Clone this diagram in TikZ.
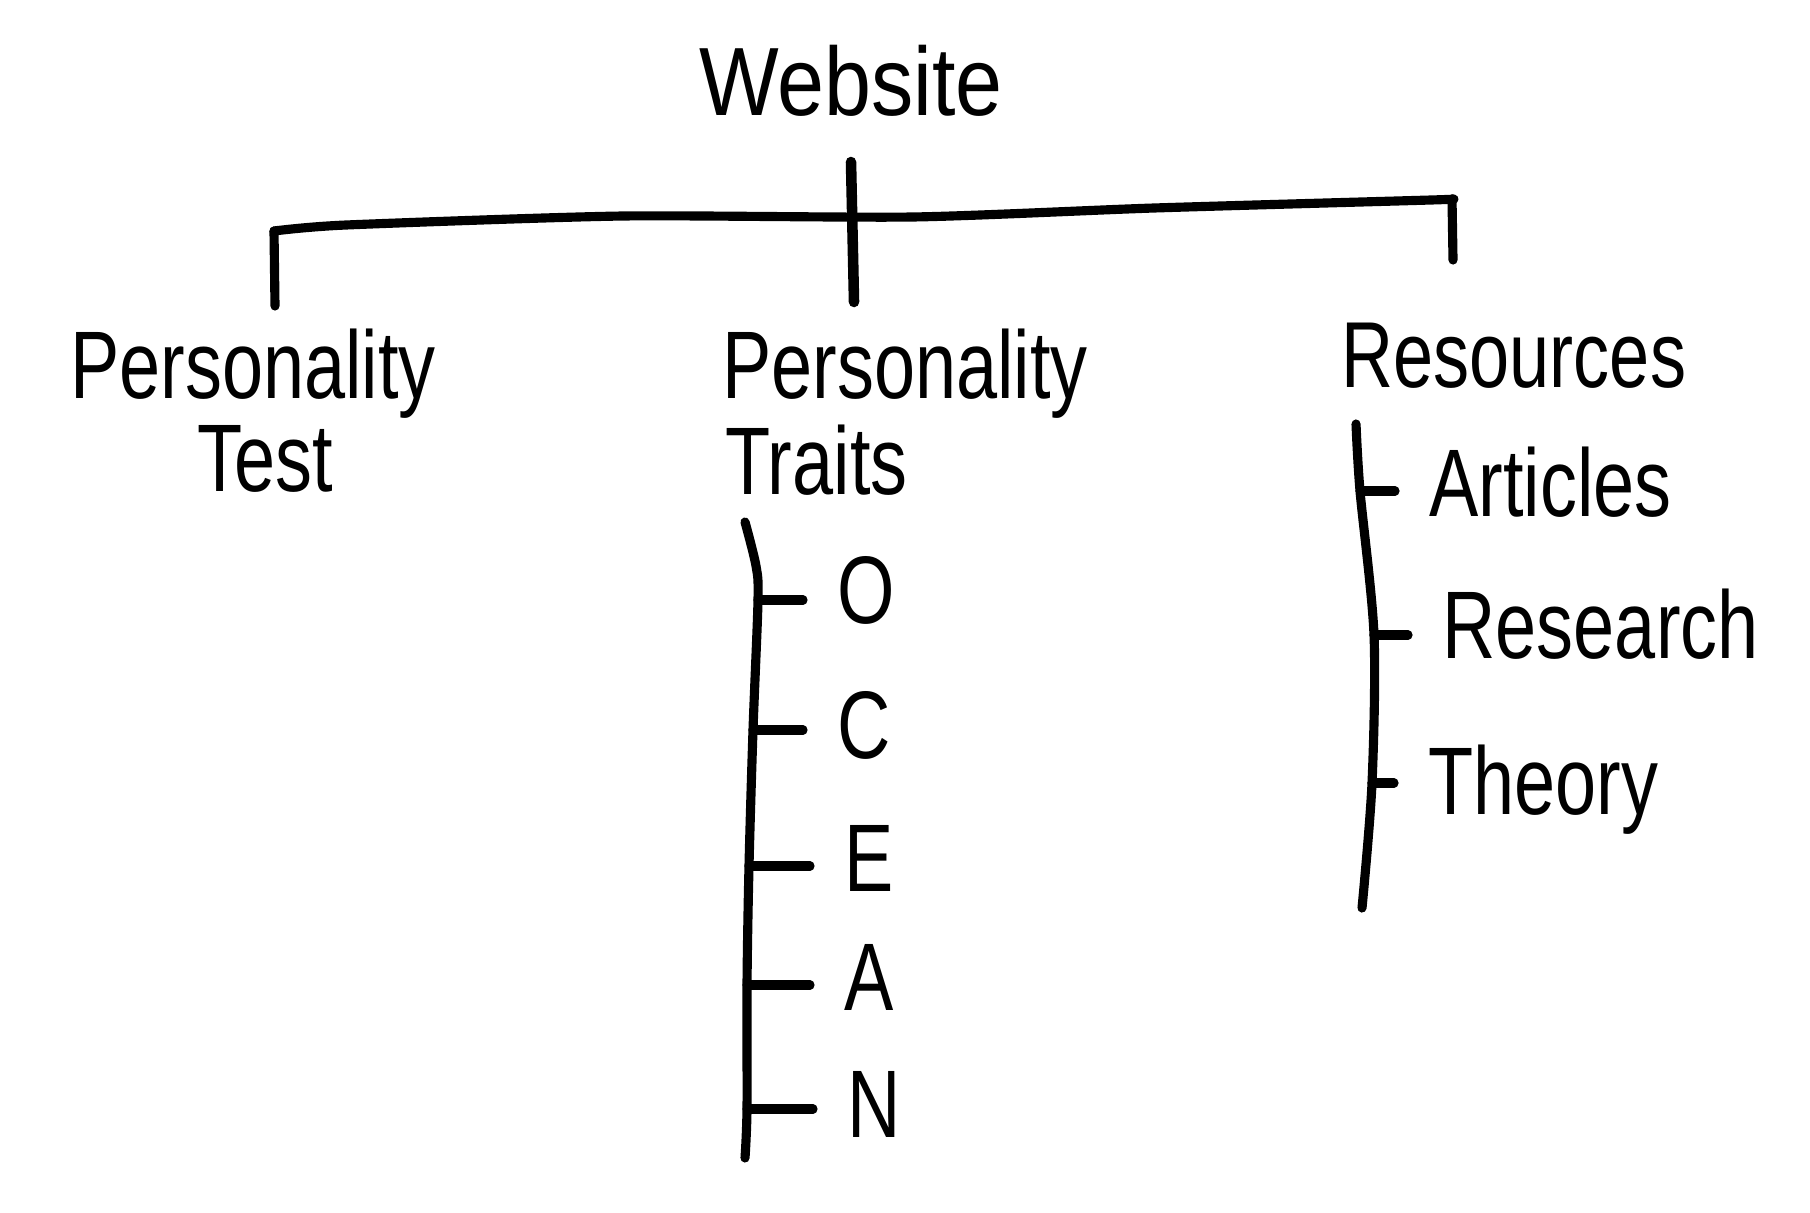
\documentclass[tikz,border=0pt]{standalone}
\usepackage{fontspec}
\setmainfont{Liberation Sans}
\usepackage{tikz}

\begin{document}
\begin{tikzpicture}[x=0.01cm, y=-0.01cm, line width=2.6pt, line cap=round, line join=round,
            title/.style = {font=\fontsize{24}{28}\selectfont, inner sep=0pt, anchor=base, yscale=1.15, transform shape},
             head/.style = {font=\fontsize{21}{25}\selectfont, inner sep=0pt, yscale=1.3, transform shape},
             item/.style = {font=\fontsize{21}{25}\selectfont, inner xsep=3mm, inner ysep=0pt, anchor=base west, yscale=1.3, transform shape}]
        \useasboundingbox (0,0) rectangle (1810,1212);

        \node[title] (web) at (851,115) {Website};
        \node[head, anchor=base] (ptest) at (253,398) {Personality};
        \node[head, anchor=base] (ptest2) at (265,491) {Test};
        \node[head, anchor=base west] (ptraits) at (718,398) {Personality};
        \node[head, anchor=base west] (ptraits2) at (721,494) {Traits};
        \node[head, anchor=base west, font=\fontsize{20.5}{25}\selectfont] (res) at (1337,387) {Resources};

        \node[item] (o) at (803,623) {O};
        \node[item] (c) at (803,758) {C};
        \node[item] (e) at (810,891) {E};
        \node[item] (a) at (810,1010) {A};
        \node[item] (n) at (813,1137) {N};

        \node[item] (art) at (1395,516) {Articles};
        \node[item] (rsch) at (1408,658) {Research};
        \node[item] (thry) at (1394,814) {Theory};

        \coordinate (webTop) at (851,162);
        \coordinate (webBot) at (854,302);
        \coordinate (barL) at (274,231);
        \coordinate (barR) at (1452,199);
        \coordinate (testTop) at (275,306);
        \coordinate (resTop) at (1453,260);

        \draw[line width=3pt] (webTop) -- (webBot);
        \draw plot[smooth, tension=0.4] coordinates {(barL) (346,225) (623,216) (912,217) (1154,208) (1431,200) (barR)};
        \draw (barL) -- (testTop);
        \draw (barR) -- (resTop);

        \coordinate (tO) at (758,600);
        \coordinate (tC) at (753,730);
        \coordinate (tE) at (749,866);
        \coordinate (tA) at (747,985);
        \coordinate (tN) at (747,1109);
        \draw plot[smooth, tension=0.5] coordinates {(745,522) (756,566) (tO) (tC) (tE) (tA) (tN) (745,1158)};
        \foreach \t/\n in {tO/o, tC/c, tE/e, tA/a, tN/n}
            \draw (\t) -- (\t -| \n.west);

        \coordinate (tArt) at (1360,491);
        \coordinate (tRsch) at (1374,635);
        \coordinate (tThry) at (1372,783);
        \draw plot[smooth, tension=0.5] coordinates {(1356,424) (tArt) (tRsch) (tThry) (1362,908)};
        \foreach \t/\n in {tArt/art, tRsch/rsch, tThry/thry}
            \draw (\t) -- (\t -| \n.west);
    \end{tikzpicture}
\end{document}
